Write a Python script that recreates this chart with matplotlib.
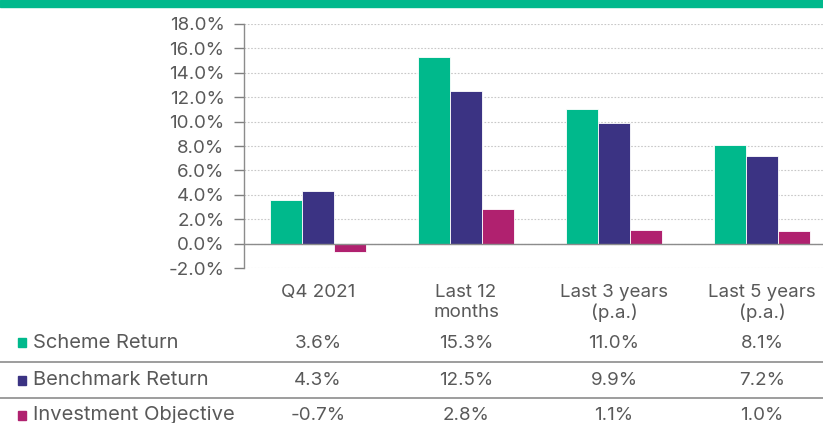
import matplotlib
matplotlib.use("Agg")
import matplotlib.pyplot as plt
import matplotlib.transforms as mtransforms
from matplotlib.patches import Rectangle
import numpy as np

plt.rcParams['font.family'] = ['Inter', 'DejaVu Sans']

categories = ['Q4 2021', 'Last 12\nmonths', 'Last 3 years\n(p.a.)', 'Last 5 years\n(p.a.)']
series = ['Scheme Return', 'Benchmark Return', 'Investment Objective']
scheme = [3.6, 15.3, 11.0, 8.1]
benchmark = [4.3, 12.5, 9.9, 7.2]
objective = [-0.7, 2.8, 1.1, 1.0]
colors = ['#00B98C', '#3B3383', '#B0216F']

txt = '#595959'
fs = 13.5
W, H = 823, 423
fig = plt.figure(figsize=(W / 100, H / 100), dpi=100)

# green band on top
fig.patches.append(Rectangle((0, 1 - 7 / H), 1, 7 / H, transform=fig.transFigure,
                             color='#00B98C', zorder=0))

ax = fig.add_axes([244 / W, 1 - 268 / H, 1 - 244 / W, (268 - 24) / H])

x = np.arange(len(categories))
bw = 0.216
for i, vals in enumerate([scheme, benchmark, objective]):
    ax.bar(x + (i - 1) * bw, vals, bw, color=colors[i], edgecolor='white',
           linewidth=0.6, zorder=3)

ax.set_ylim(-2, 18)
ax.set_xlim(-0.5, -0.5 + (W - 244) / 148)
ax.set_yticks(np.arange(-2, 19, 2))
ax.set_yticklabels([f'{v:.1f}%' for v in np.arange(-2, 19, 2)])
ax.tick_params(axis='y', colors='#7f7f7f', labelcolor=txt, labelsize=fs,
               length=7, width=1, pad=7)
ax.set_xticks([])
ax.grid(axis='y', color='#c8c8c8', linestyle=(0, (1.5, 1.5)), linewidth=0.8, zorder=0)
ax.axhline(0, color='#8c8c8c', linewidth=1, zorder=4)
for s in ['top', 'right', 'bottom']:
    ax.spines[s].set_visible(False)
ax.spines['left'].set_color('#8c8c8c')
ax.spines['left'].set_linewidth(1)

trans = mtransforms.blended_transform_factory(ax.transData, fig.transFigure)
for xi, c in zip(x, categories):
    ax.text(xi, 1 - 284 / H, c, transform=trans, ha='center', va='top',
            fontsize=fs, color=txt, linespacing=1.2)

# data table
rows = [scheme, benchmark, objective]
row_y = [343, 380, 415]
for r, (name, vals, col, yy) in enumerate(zip(series, rows, colors, row_y)):
    yf = 1 - yy / H
    fig.patches.append(Rectangle((18 / W, yf - 4.5 / H), 8 / W, 9 / H,
                                 transform=fig.transFigure, color=col))
    fig.text(33 / W, yf, name, ha='left', va='center', fontsize=14.5, color=txt)
    for xi, v in zip(x, vals):
        ax.text(xi, yf, f'{v:.1f}%', transform=trans, ha='center', va='center',
                fontsize=fs, color=txt)

for ly in [362, 398]:
    fig.add_artist(plt.Line2D([0, 1], [1 - ly / H] * 2, transform=fig.transFigure,
                              color='#8c8c8c', linewidth=1.2))

fig.savefig('out.png', dpi=100)
